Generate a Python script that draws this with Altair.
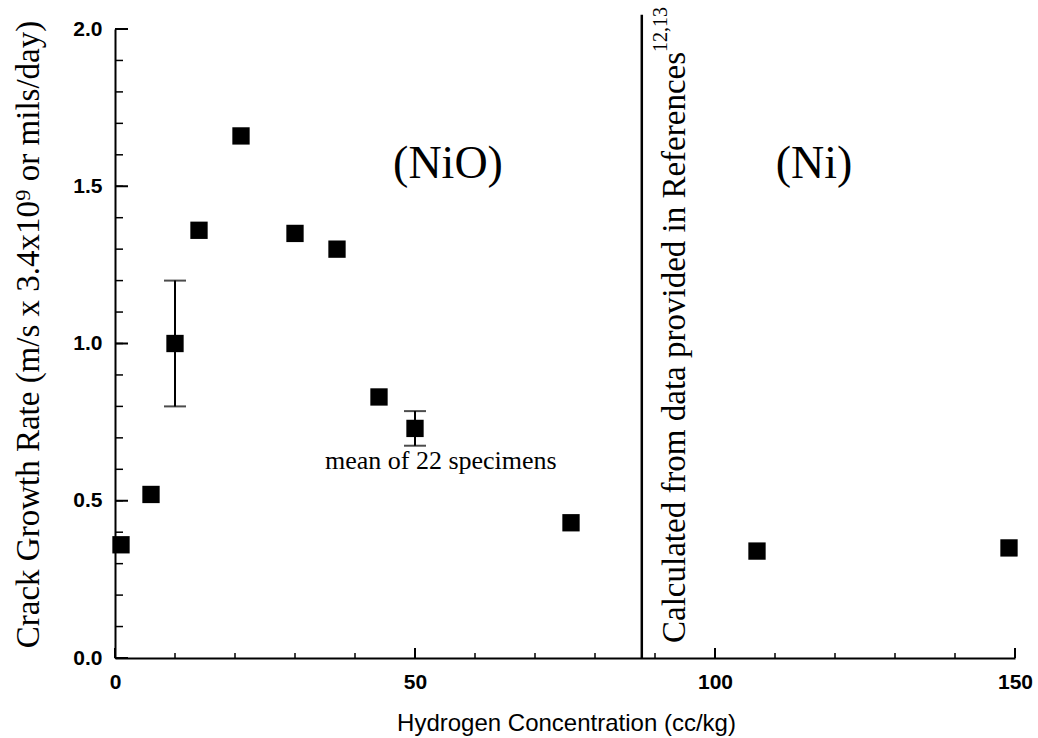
import altair as alt
import pandas as pd

# ---- data ----
h2_conc = [1, 6, 10, 14, 21, 30, 37, 44, 50, 76, 107, 149]
growth_rate = [0.36, 0.52, 1.00, 1.36, 1.66, 1.35, 1.30, 0.83, 0.73, 0.43, 0.34, 0.35]

err_x = [10, 50]
err_lo = [0.80, 0.675]
err_hi = [1.20, 0.785]

boundary_x = [87.8]
boundary_y0 = [0.0]
boundary_y1 = [2.045]

region_labels = ["(NiO)", "(Ni)"]
region_x = [55.5, 116.5]
region_y = [1.57, 1.57]

note_text = ["mean of 22 specimens"]
note_x = [54.3]
note_y = [0.60]

side_text = ["Calculated from data provided in References"]
side_x = [93.3]
side_y = [1.927]
side_sup = ["12,13"]
side_sup_x = [91.0]

x_major = [0, 50, 100, 150]
x_minor = list(range(0, 151, 10))
y_major = [0.0, 0.5, 1.0, 1.5, 2.0]
y_minor = [i / 10 for i in range(0, 21)]

pts = pd.DataFrame({"h": h2_conc, "r": growth_rate})
err = pd.DataFrame({"h": err_x, "lo": err_lo, "hi": err_hi})
bnd = pd.DataFrame({"h": boundary_x, "y0": boundary_y0, "y1": boundary_y1})
reg = pd.DataFrame({"t": region_labels, "h": region_x, "r": region_y})
note = pd.DataFrame({"t": note_text, "h": note_x, "r": note_y})
side = pd.DataFrame({"t": side_text, "h": side_x, "r": side_y})
sup = pd.DataFrame({"t": side_sup, "h": side_sup_x, "r": side_y})
xmaj = pd.DataFrame({"h": x_major})
xmin = pd.DataFrame({"h": x_minor})
ymaj = pd.DataFrame({"r": y_major})
ymin = pd.DataFrame({"r": y_minor})

W, H = 900, 629
xs = alt.Scale(domain=[0, 150], nice=False, zero=False)
ys = alt.Scale(domain=[0, 2.0], nice=False, zero=False)

SANS = "Liberation Sans"
SERIF = "Liberation Serif"
X_TITLE = "Hydrogen Concentration (cc/kg)"
Y_TITLE = "Crack Growth Rate (m/s x 3.4x10\u2079 or mils/day)"

main_x_axis = alt.Axis(
    orient="bottom", values=x_major, format="d", ticks=False, tickSize=0,
    grid=False, domain=True, domainColor="black", domainWidth=2,
    labelFont=SANS, labelFontSize=21, labelFontWeight="bold", labelColor="black",
    labelPadding=13, labelFlush=False, labelBaseline="top",
    title=X_TITLE, titleFont=SANS, titleFontSize=24,
    titleFontWeight="normal", titleColor="black", titleX=451, titleY=72,
    titleBaseline="alphabetic", titleAlign="center",
)
main_y_axis = alt.Axis(
    orient="left", values=y_major, format=".1f", ticks=False, tickSize=0,
    grid=False, domain=True, domainColor="black", domainWidth=2,
    labelFont=SANS, labelFontSize=21, labelFontWeight="bold", labelColor="black",
    labelPadding=13, labelFlush=False,
    title=Y_TITLE,
    titleFont=SERIF, titleFontSize=33, titleFontWeight="normal", titleColor="black",
    titleX=-87, titleY=305, titleAngle=270, titleAlign="center", titleBaseline="middle",
)


def X(field):
    return alt.X(field, scale=xs, axis=main_x_axis, title=X_TITLE)


def Y(field):
    return alt.Y(field, scale=ys, axis=main_y_axis, title=Y_TITLE)


points = alt.Chart(pts).mark_point(shape="square", filled=True, size=300,
                                   color="black", opacity=1).encode(
    x=X("h:Q"), y=Y("r:Q"),
)

# inward-pointing axis ticks
xtick_minor = alt.Chart(xmin).mark_rule(color="black", strokeWidth=1.5).encode(
    x=X("h:Q"), y=alt.value(H), y2=alt.value(H - 5),
)
xtick_major = alt.Chart(xmaj).mark_rule(color="black", strokeWidth=2).encode(
    x=X("h:Q"), y=alt.value(H), y2=alt.value(H - 10),
)
ytick_minor = alt.Chart(ymin).mark_rule(color="black", strokeWidth=1.5).encode(
    y=Y("r:Q"), x=alt.value(0), x2=alt.value(8),
)
ytick_major = alt.Chart(ymaj).mark_rule(color="black", strokeWidth=2).encode(
    y=Y("r:Q"), x=alt.value(0), x2=alt.value(13),
)

err_rules = alt.Chart(err).mark_rule(color="black", strokeWidth=2).encode(
    x=X("h:Q"), y=Y("lo:Q"), y2="hi:Q",
)
caps_lo = alt.Chart(err).mark_tick(color="black", orient="horizontal",
                                   size=22, thickness=2).encode(
    x=X("h:Q"), y=Y("lo:Q"),
)
caps_hi = alt.Chart(err).mark_tick(color="black", orient="horizontal",
                                   size=22, thickness=2).encode(
    x=X("h:Q"), y=Y("hi:Q"),
)

boundary = alt.Chart(bnd).mark_rule(color="black", strokeWidth=2.5).encode(
    x=X("h:Q"), y=Y("y0:Q"), y2="y1:Q",
)

regions = alt.Chart(reg).mark_text(font=SERIF, fontSize=46, color="black",
                                   align="center", baseline="middle").encode(
    x=X("h:Q"), y=Y("r:Q"), text="t:N",
)

note_layer = alt.Chart(note).mark_text(font=SERIF, fontSize=26, color="black",
                                       align="center", baseline="alphabetic").encode(
    x=X("h:Q"), y=Y("r:Q"), text="t:N",
)

side_layer = alt.Chart(side).mark_text(font=SERIF, fontSize=33, color="black",
                                       align="right", baseline="middle",
                                       angle=270).encode(
    x=X("h:Q"), y=Y("r:Q"), text="t:N",
)
sup_layer = alt.Chart(sup).mark_text(font=SERIF, fontSize=20, color="black",
                                     align="left", baseline="middle",
                                     angle=270).encode(
    x=X("h:Q"), y=Y("r:Q"), text="t:N",
)

chart = alt.layer(
    points, xtick_minor, xtick_major, ytick_minor, ytick_major,
    err_rules, caps_lo, caps_hi, boundary, regions, note_layer,
    side_layer, sup_layer,
).properties(
    width=W, height=H,
    autosize=alt.AutoSizeParams(type="none"),
    padding={"left": 115, "top": 29, "right": 23, "bottom": 80},
    background="white",
).configure_view(stroke=None)

chart.save("out.html", embed_options={"renderer": "svg", "actions": False})
